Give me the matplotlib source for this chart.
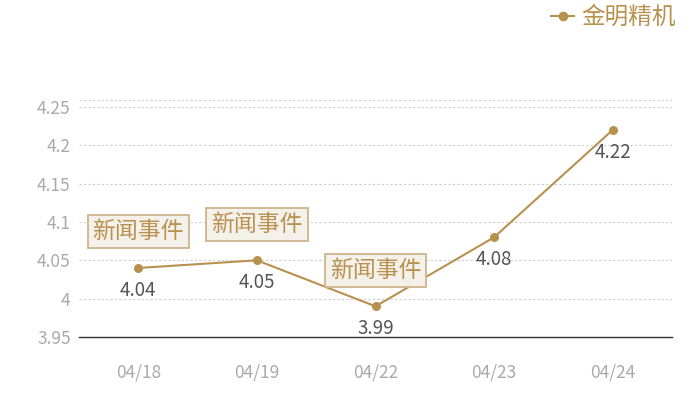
import matplotlib
matplotlib.use("Agg")
import matplotlib.pyplot as plt
from matplotlib.lines import Line2D

plt.rcParams['font.family'] = ['Noto Sans CJK SC', 'DejaVu Sans']

# data
dates = ["04/18", "04/19", "04/22", "04/23", "04/24"]
prices = [4.04, 4.05, 3.99, 4.08, 4.22]
event_idx = [0, 1, 2]
event_text = "新闻事件"
series_name = "金明精机"
yticks = [3.95, 4, 4.05, 4.1, 4.15, 4.2, 4.25]
ytick_labels = ["3.95", "4", "4.05", "4.1", "4.15", "4.2", "4.25"]

gold = "#b8914f"
grey_tick = "#aaaaaa"

fig = plt.figure(figsize=(7, 4), dpi=100)
ax = fig.add_axes([79 / 700, 1 - 337 / 400, 593 / 700, 237 / 400])

x = list(range(len(dates)))
ax.plot(x, prices, color=gold, lw=1.5, marker="o", markersize=6.5,
        markeredgewidth=0, zorder=3)

for i, v in zip(x, prices):
    ax.annotate(f"{v:.2f}", (i, v), xytext=(0, -16), textcoords="offset points",
                ha="center", va="center", fontsize=13.5, color="#555555", zorder=4)

for i in event_idx:
    ax.annotate(event_text, (x[i], prices[i]), xytext=(0, 26), textcoords="offset points",
                ha="center", va="center", fontsize=16.5, color=gold, zorder=5,
                bbox=dict(boxstyle="square,pad=0.22", fc="#f4f0ea", ec="#cfb48c", lw=1.3))

ax.set_xlim(-0.5, len(dates) - 0.5)
ax.set_ylim(3.95, 4.259)
ax.set_xticks(x)
ax.set_xticklabels(dates)
ax.set_yticks(yticks)
ax.set_yticklabels(ytick_labels)
ax.tick_params(length=0, colors=grey_tick, labelsize=12.5)
ax.tick_params(axis="x", pad=19)
ax.tick_params(axis="y", pad=6)

for y in yticks[1:] + [4.259]:
    ax.axhline(y, color="#cccccc", lw=0.8, ls=(0, (2, 2)), zorder=1)

for s in ["top", "right", "left"]:
    ax.spines[s].set_visible(False)
ax.spines["bottom"].set_color("#333333")
ax.spines["bottom"].set_linewidth(1)

handle = Line2D([], [], color=gold, lw=1.5, marker="o", markersize=7, markeredgewidth=0)
leg = fig.legend([handle], [series_name], loc="upper right",
                 bbox_to_anchor=(676 / 700, 1 - 6 / 400), frameon=False, fontsize=17,
                 handlelength=1.0, handletextpad=0.3, borderaxespad=0, borderpad=0)
for t in leg.get_texts():
    t.set_color(gold)

fig.savefig("out.png", dpi=100)
